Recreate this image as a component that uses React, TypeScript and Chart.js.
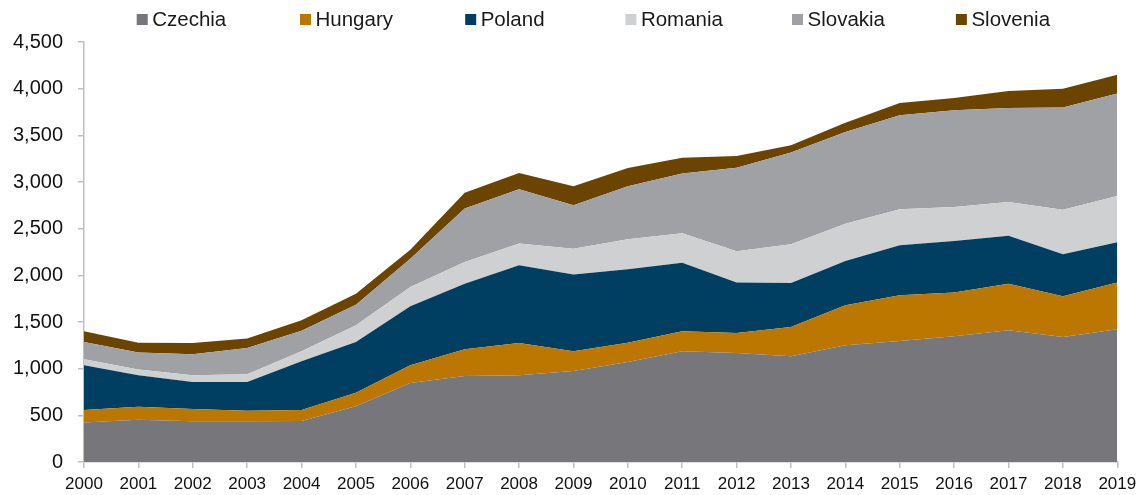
import React, { useEffect, useRef } from "react";
import { Chart, registerables } from "chart.js";

Chart.register(...registerables);

const years = ["2000","2001","2002","2003","2004","2005","2006","2007","2008","2009","2010","2011","2012","2013","2014","2015","2016","2017","2018","2019"];
const seriesNames = ["Czechia", "Hungary", "Poland", "Romania", "Slovakia", "Slovenia"];
const czechia = [422, 454, 436, 436, 440, 597, 847, 922, 929, 975, 1071, 1186, 1168, 1132, 1250, 1297, 1347, 1411, 1340, 1422];
const hungary = [135, 139, 132, 114, 117, 146, 189, 285, 346, 211, 208, 214, 214, 315, 429, 489, 468, 500, 435, 500];
const poland = [479, 336, 289, 307, 522, 543, 632, 704, 833, 822, 786, 736, 540, 471, 475, 536, 553, 514, 450, 432];
const romania = [64, 61, 72, 83, 107, 178, 207, 232, 232, 278, 321, 314, 335, 414, 400, 385, 364, 361, 479, 496];
const slovakia = [186, 182, 225, 282, 221, 222, 304, 572, 582, 464, 568, 640, 897, 983, 982, 1007, 1036, 1007, 1093, 1097];
const slovenia = [114, 107, 121, 100, 111, 118, 96, 171, 175, 204, 196, 171, 125, 78, 100, 133, 132, 182, 203, 203];
const yTicks = [0, 500, 1000, 1500, 2000, 2500, 3000, 3500, 4000, 4500];

const colors = ["#77767b", "#bb7700", "#003f62", "#cfd0d2", "#a0a1a5", "#6b4400"];
const legendX = [136.7, 300, 465.2, 625.4, 792, 955.9];

const legendPlugin = {
  id: "customLegend",
  afterDraw(chart: any) {
    const ctx = chart.ctx;
    ctx.save();
    ctx.font = "20.5px 'Liberation Sans', Arial, sans-serif";
    ctx.textBaseline = "middle";
    ctx.textAlign = "left";
    chart.data.datasets.forEach((ds: any, i: number) => {
      const x = legendX[i];
      ctx.fillStyle = ds.backgroundColor;
      ctx.fillRect(x, 14, 11, 11);
      ctx.fillStyle = "#1a1a1a";
      ctx.fillText(ds.label, x + 15.5, 20);
    });
    ctx.restore();
  },
};

export default function App() {
  const ref = useRef<HTMLCanvasElement | null>(null);
  useEffect(() => {
    if (!ref.current) return;
    const values = [czechia, hungary, poland, romania, slovakia, slovenia];
    const chart = new Chart(ref.current, {
      type: "line",
      data: {
        labels: years,
        datasets: seriesNames.map((name, i) => ({
          label: name,
          data: values[i],
          backgroundColor: colors[i],
          borderColor: colors[i],
          borderWidth: 0,
          pointRadius: 0,
          fill: i === 0 ? "origin" : "-1",
          tension: 0,
        })),
      },
      options: {
        animation: false,
        responsive: false,
        maintainAspectRatio: false,
        layout: { padding: { top: 42, right: 27.7, left: 0, bottom: 0 } },
        plugins: { legend: { display: false }, tooltip: { enabled: false } },
        scales: {
          x: {
            offset: false,
            grid: { display: true, drawOnChartArea: false, drawTicks: true, tickLength: 6, color: "#c0c0c0", lineWidth: 1.5 },
            border: { color: "#c0c0c0", width: 1.5 },
            ticks: {
              color: "#111",
              font: { family: "'Liberation Sans', Arial, sans-serif", size: 17 },
              padding: 6,
              maxRotation: 0,
              autoSkip: false,
            },
            afterFit(scale: any) { scale.height = 33; },
          },
          y: {
            stacked: true,
            min: 0,
            max: 4500,
            afterBuildTicks(scale: any) { scale.ticks = yTicks.map((v) => ({ value: v })); },
            grid: { display: true, drawOnChartArea: false, drawTicks: true, tickLength: 6, color: "#c0c0c0", lineWidth: 1.5 },
            border: { color: "#c0c0c0", width: 1.5 },
            ticks: {
              color: "#111",
              font: { family: "'Liberation Sans', Arial, sans-serif", size: 20 },
              padding: 15,
              callback: (v: any) => Number(v).toLocaleString("en-US"),
            },
            afterFit(scale: any) { scale.width = 84; },
          },
        },
      },
      plugins: [legendPlugin],
    });
    return () => chart.destroy();
  }, []);
  return (
    <div style={{ position: "absolute", left: 0, top: 0, width: 1145, height: 495, background: "#fff" }}>
      <canvas ref={ref} width={1145} height={495} style={{ width: 1145, height: 495 }} />
    </div>
  );
}
